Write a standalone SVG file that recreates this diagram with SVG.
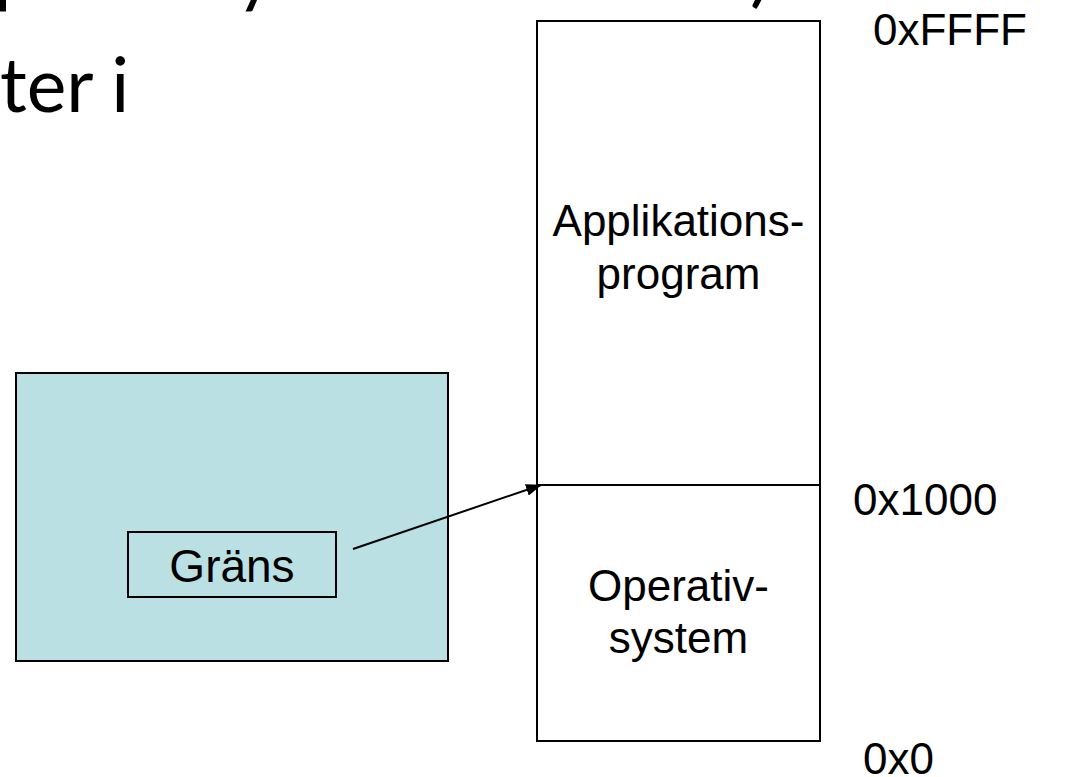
<svg xmlns="http://www.w3.org/2000/svg" width="1078" height="777" viewBox="0 0 1078 777">
<style>
.lbl{font-family:"Liberation Sans",Arial,sans-serif;font-size:44px;fill:#000}
.ttl{font-family:Lato,"Open Sans",sans-serif;font-size:75px;fill:#000}
.box{stroke:#000;stroke-width:2}
</style>
<defs>
<marker id="arr" markerWidth="16" markerHeight="12" refX="15" refY="6" orient="auto" markerUnits="userSpaceOnUse">
<path d="M0,0 L16,6 L0,12 Z" fill="#000"/>
</marker>
</defs>
<rect width="1078" height="777" fill="#fff"/>
<g id="title">
<text class="ttl" x="-6" y="-2">p</text>
<text class="ttl" x="236" y="-2">y</text>
<text class="ttl" x="750" y="-2">)</text>
<text class="ttl" x="0" y="112">ter i</text>
</g>
<g id="memory">
<rect class="box" x="537" y="21" width="283" height="720" fill="#fff"/>
<line class="box" x1="537" y1="485" x2="820" y2="485"/>
</g>
<g id="app">
<text class="lbl" x="678.5" y="236" text-anchor="middle">Applikations-</text>
<text class="lbl" x="678.5" y="289" text-anchor="middle">program</text>
</g>
<g id="os">
<text class="lbl" x="678.5" y="601" text-anchor="middle">Operativ-</text>
<text class="lbl" x="678.5" y="653" text-anchor="middle">system</text>
</g>
<g id="addr">
<text class="lbl" x="873" y="45">0xFFFF</text>
<text class="lbl" x="853" y="515">0x1000</text>
<text class="lbl" x="863" y="774">0x0</text>
</g>
<g id="cpu">
<rect class="box" x="16" y="373" width="432" height="288" fill="#BBE0E3"/>
</g>
<g id="grans">
<rect class="box" x="128" y="532" width="208" height="65" fill="#BBE0E3"/>
<text class="lbl" x="232" y="582" text-anchor="middle" style="font-size:46px">Gräns</text>
</g>
<g id="connectors">
<line x1="353" y1="549" x2="541" y2="485" stroke="#000" stroke-width="2" marker-end="url(#arr)"/>
</g>
</svg>
